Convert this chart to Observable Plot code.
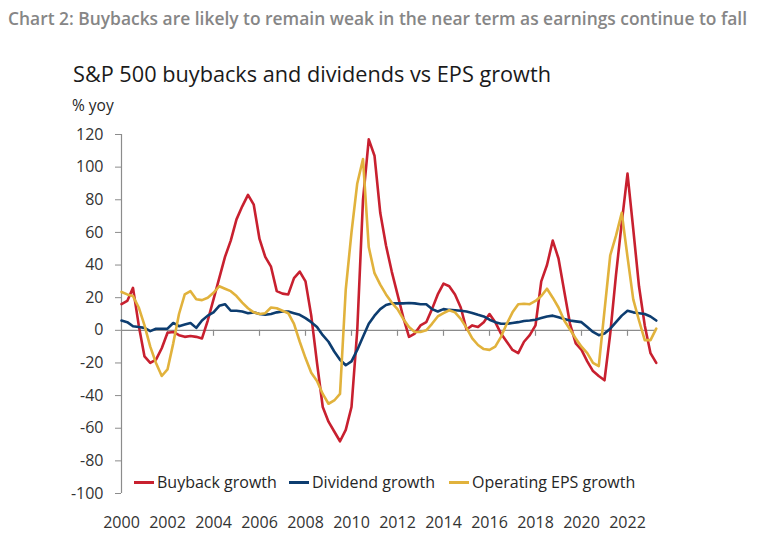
<!DOCTYPE html>
<html><head><meta charset="utf-8">
<script src="https://cdn.jsdelivr.net/npm/d3@7"></script>
<script src="https://cdn.jsdelivr.net/npm/@observablehq/plot@0.6"></script>
<style>
body{margin:0;background:#fff;font-family:"Open Sans",sans-serif;}
#wrap{position:relative;width:758px;height:539px;overflow:hidden;}
#head{position:relative;height:120px;}
#title{position:absolute;left:8px;top:6px;font-size:17.4px;font-weight:600;color:#868686;white-space:nowrap;}
#sub{position:absolute;left:73px;top:59px;font-size:21.7px;color:#1a1a1a;white-space:nowrap;}
#unit{position:absolute;left:72px;top:94px;font-size:15.5px;color:#262626;}
.leg{position:absolute;top:471px;height:22px;display:flex;align-items:center;font-size:16px;color:#262626;white-space:nowrap;}
.sw{display:inline-block;width:20px;height:3px;margin-right:3px;}
svg{display:block;}
</style></head>
<body>
<div id="wrap">
  <div id="head">
    <div id="title">Chart 2: Buybacks are likely to remain weak in the near term as earnings continue to fall</div>
    <div id="sub">S&amp;P 500 buybacks and dividends vs EPS growth</div>
    <div id="unit">% yoy</div>
  </div>
  <div id="chart"></div>
</div>
<script>
// Quarterly data, 2000 Q1 to 2023 Q2 (% yoy)
const buyback = [
  16, 18, 26, 3,
  -16, -20, -18, -11,
  -1.5, -1, -3, -4,
  -3.5, -4, -5, 6,
  19, 32, 45, 55,
  68, 76, 83, 77,
  56, 45, 39, 24,
  22.5, 22, 32, 36,
  30, 9, -20, -47,
  -56, -62, -68, -61,
  -47, 0, 80, 117,
  107, 72, 52, 36,
  22, 8, -4, -2,
  3, 5, 13, 22,
  28.6, 27, 22, 14,
  0.5, 3, 2, 5,
  10, 5, -2, -7,
  -12, -14, -7, -3,
  3, 30, 40, 55,
  44, 24, 4, -8,
  -12, -19, -25, -28,
  -30.6, -2, 34, 66,
  96, 62, 27, 3,
  -14, -20
];
const dividend = [
  6, 5, 2.5, 2,
  1.5, -0.5, 1, 1,
  1, 4.5, 2.5, 3.5,
  4.5, 1.5, 6, 9,
  11, 15, 16, 12,
  12, 11.5, 10.5, 11,
  10, 9.5, 10, 11,
  11.5, 11.5, 10.5, 9.5,
  7.5, 5, 2, -3,
  -7, -13, -18, -21.4,
  -19, -12, -4, 4,
  9, 13, 15.5, 16.5,
  16.5, 16.5, 16.7, 16.5,
  16, 16, 13, 11.5,
  13, 12.5, 12.3, 12,
  11.5, 10.6, 9.5, 8.5,
  6.5, 5, 4, 4,
  4.5, 5, 5.7, 6,
  6.5, 7.5, 8.5, 9,
  8, 7, 6, 5.5,
  5, 2, -1, -3,
  -2, 1, 5, 9,
  12, 11, 10.5, 10,
  8.5, 6
];
const eps = [
  23.5, 22, 21, 14,
  3, -10, -20, -28,
  -24, -8, 10, 22,
  24, 19, 18.5, 20,
  23, 27, 25.5, 24,
  21, 17, 13.5, 11,
  10, 10.5, 14, 13.5,
  12, 10.5, 4, -7,
  -17, -26, -31, -39,
  -45, -43, -39, 25,
  60, 90, 105, 51,
  35, 28, 22, 17,
  13, 7, 2, -1,
  -1, 0, 4, 8.5,
  10.5, 12.3, 11, 7,
  1.5, -5, -9, -11.5,
  -12, -10, -4, 4,
  11, 16, 16.3, 16,
  18, 21, 25.5, 20,
  14, 6, 0.5, -5,
  -10, -14, -20, -22,
  12, 46, 58, 72,
  45, 19, 6, -6,
  -6, 1
];
const startYear = 2000;
const xTickYears = [2000, 2002, 2004, 2006, 2008, 2010, 2012, 2014, 2016, 2018, 2020, 2022];
const yTickValues = [-100, -80, -60, -40, -20, 0, 20, 40, 60, 80, 100, 120];
const seriesNames = ["Buyback growth", "Dividend growth", "Operating EPS growth"];
const seriesColors = ["#c8202f", "#0d3d70", "#e1b23c"];

const quarters = buyback.map((_, i) => startYear + i / 4);
const rows = [];
[buyback, dividend, eps].forEach((vals, s) => {
  vals.forEach((v, i) => rows.push({t: quarters[i], v, s: seriesNames[s]}));
});

const axisGrey = "#8c8c8c";
const chart = Plot.plot({
  width: 758, height: 419,
  marginLeft: 121, marginRight: 102.25, marginTop: 14, marginBottom: 46,
  x: {domain: [startYear, quarters[quarters.length - 1]]},
  y: {domain: [-100, 120]},
  color: {domain: seriesNames, range: seriesColors},
  style: {fontFamily: "Open Sans", fontSize: "16px", color: "#333", background: "#fff"},
  marks: [
    Plot.ruleY([0], {stroke: axisGrey, strokeWidth: 1.2}),
    Plot.ruleX(xTickYears.slice(1), {x: d => d, y1: 0, y2: 0, insetBottom: -6, stroke: axisGrey, strokeWidth: 1.2}),
    Plot.ruleX([startYear], {stroke: axisGrey, strokeWidth: 1.2}),
    Plot.axisY({ticks: yTickValues, tickSize: 6, tickPadding: 12, stroke: axisGrey, fill: "#333", label: null, tickFormat: d => String(d)}),
    Plot.axisX({ticks: xTickYears, tickSize: 0, tickPadding: 23, fill: "#333", label: null, tickFormat: d => String(d)}),
    Plot.line(rows, {x: "t", y: "v", z: "s", stroke: "s", strokeWidth: 2.6, strokeLinejoin: "round"})
  ]
});
document.getElementById("chart").appendChild(chart);

// legend (inside plot area, as in the original)
const legendLeft = [134, 289, 449];
seriesNames.forEach((name, i) => {
  const d = document.createElement("div");
  d.className = "leg";
  d.style.left = legendLeft[i] + "px";
  d.innerHTML = `<span class="sw" style="background:${seriesColors[i]}"></span>${name}`;
  document.getElementById("wrap").appendChild(d);
});
</script>
</body></html>
